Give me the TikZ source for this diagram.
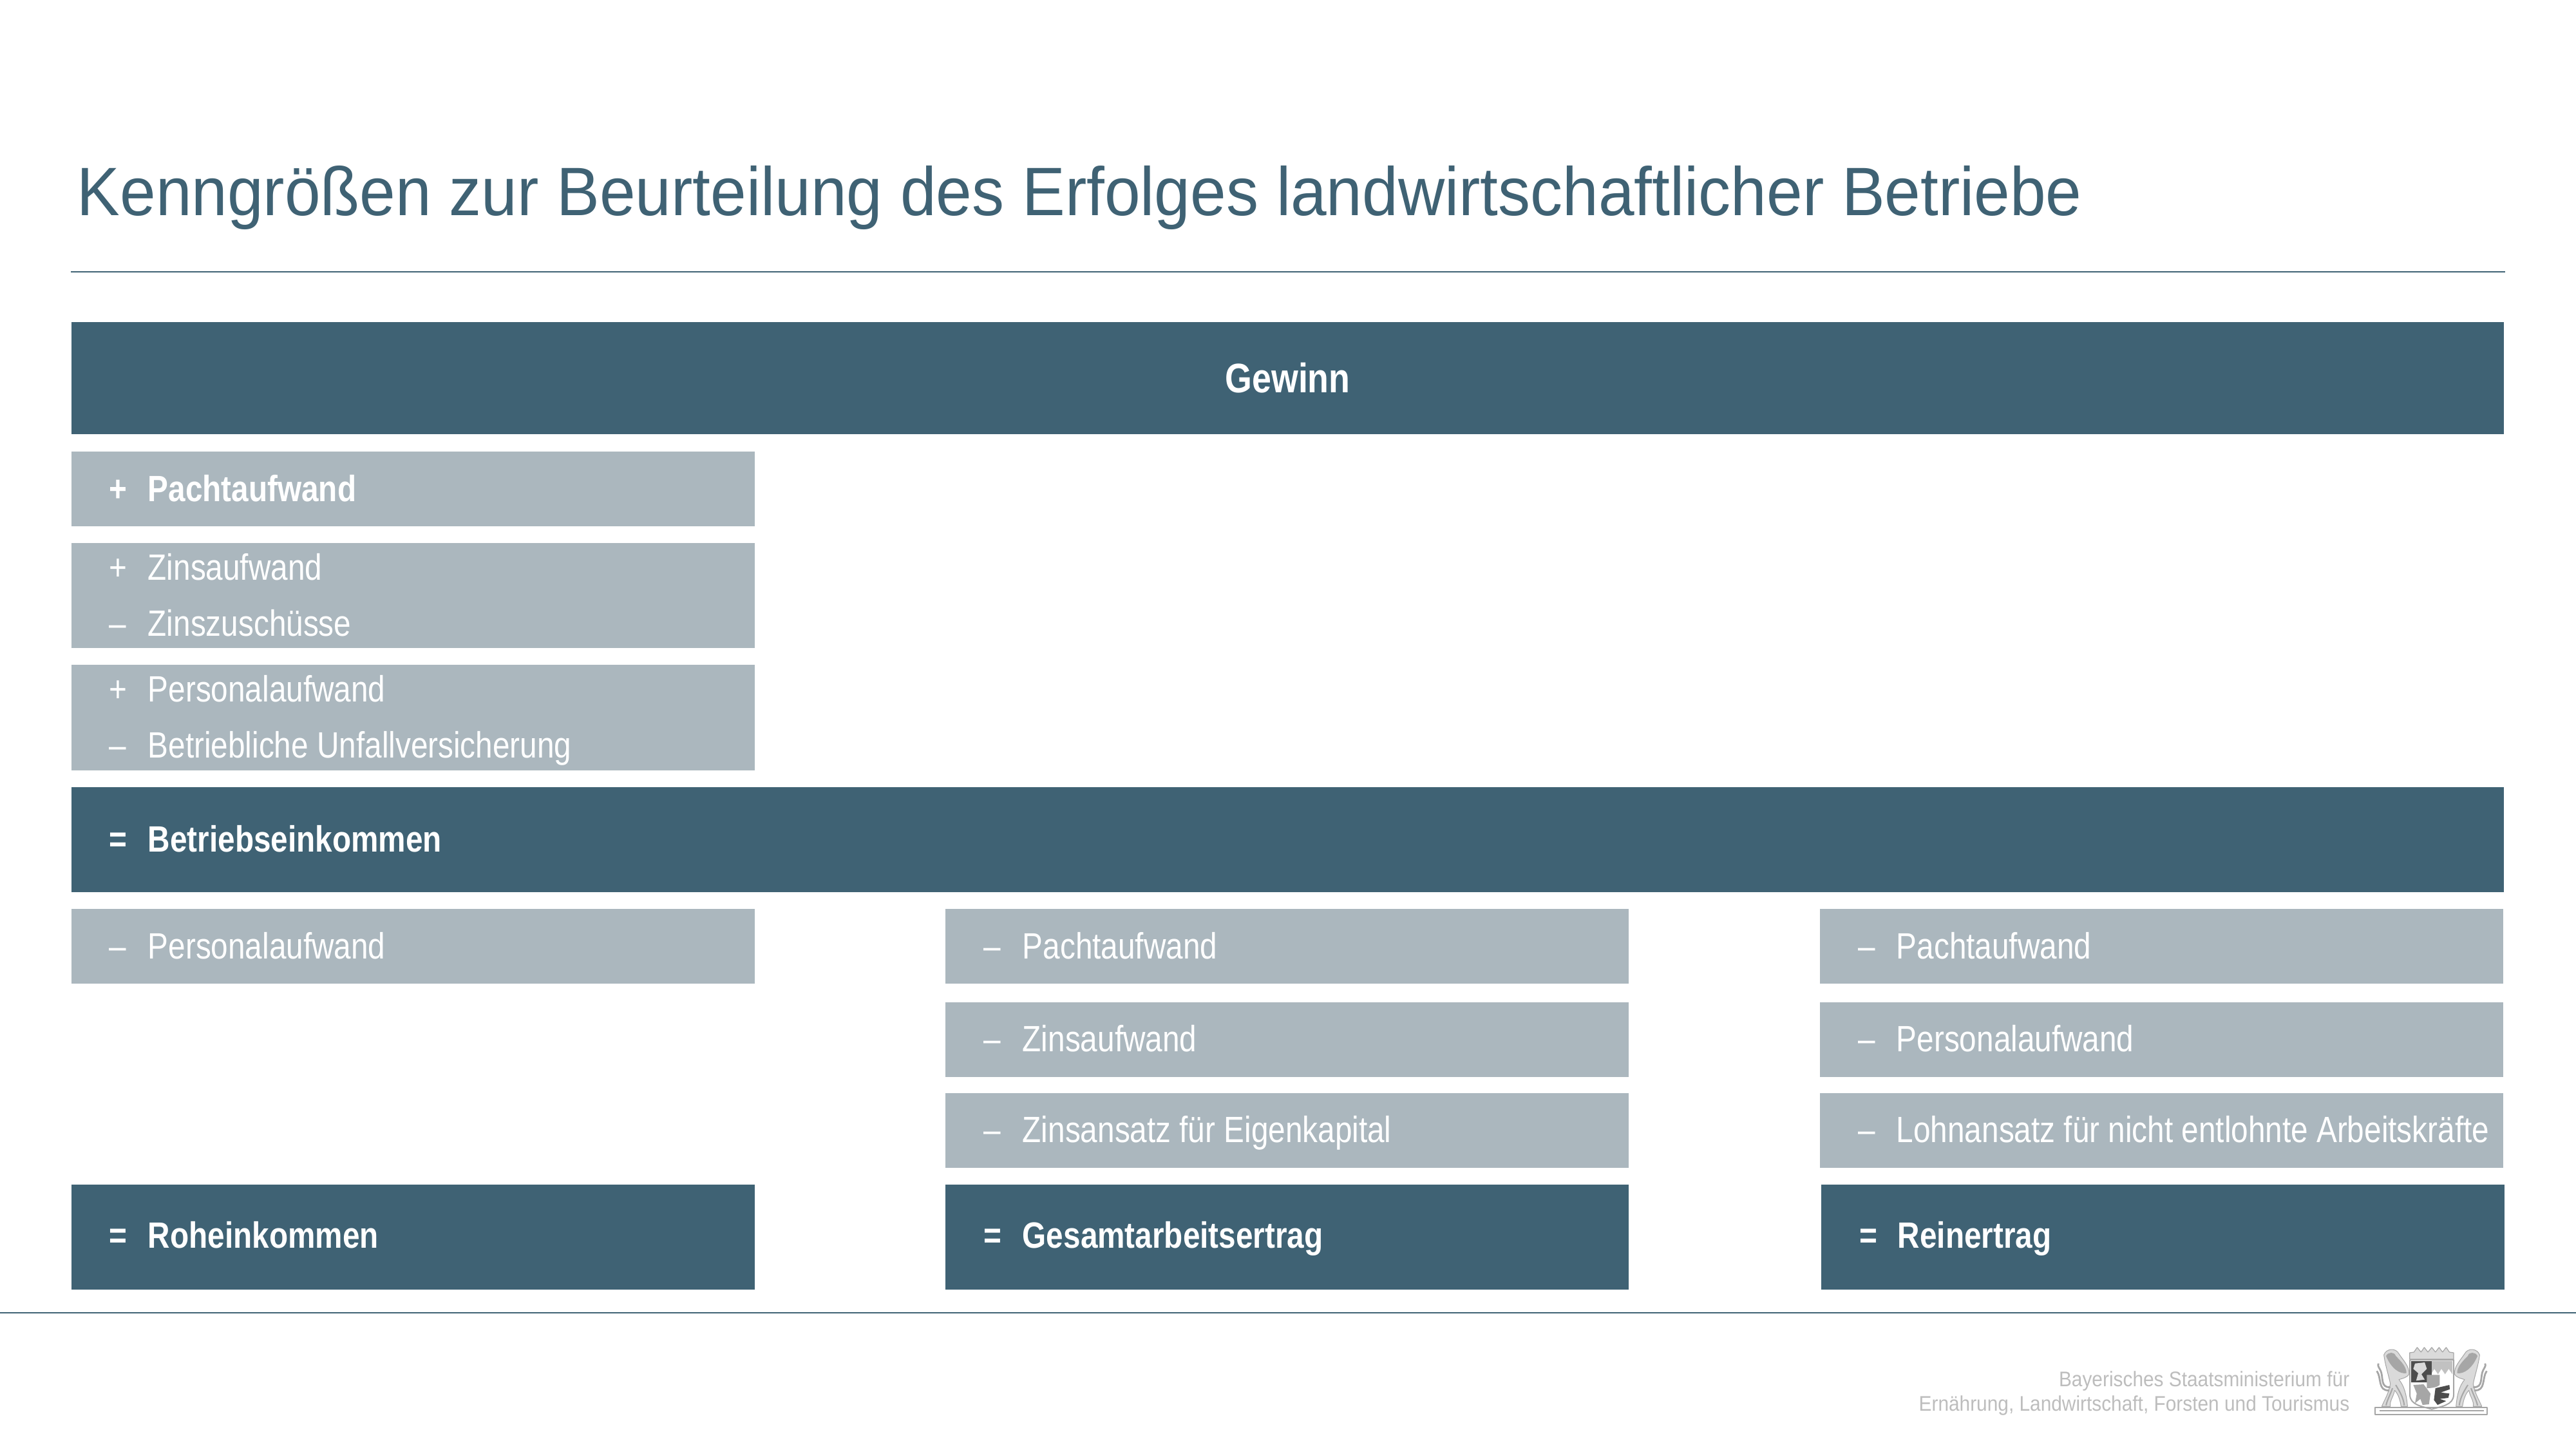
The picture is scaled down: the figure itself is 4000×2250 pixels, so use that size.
\documentclass[tikz,border=0pt]{standalone}
\usepackage{fontspec}
\setmainfont[FakeStretch=0.94]{Liberation Sans}
\newfontfamily\condfont[FakeStretch=0.84]{Liberation Sans}
\newfontfamily\footfont[FakeStretch=0.91]{Liberation Sans}
\definecolor{darkbar}{HTML}{3F6274}
\definecolor{palebar}{HTML}{ABB7BE}
\definecolor{footgrey}{HTML}{BDBDBD}
\definecolor{crestpale}{HTML}{DADADA}
\definecolor{crestmid}{HTML}{A6A6A6}
\definecolor{crestdark}{HTML}{4D4D4D}
\tikzset{
  bar/.style={fill=#1, inner sep=0pt, outer sep=0pt, anchor=north west},
  entry/.style={anchor=base west, inner sep=0pt, text=white, font=\condfont\fontsize{14.2}{16}\selectfont},
  bentry/.style={entry, font=\condfont\bfseries\fontsize{14.2}{16}\selectfont},
  footline/.style={anchor=base east, inner sep=0pt, text=footgrey, font=\footfont\fontsize{8.2}{10}\selectfont},
}
% one supporter of the crest
\newcommand{\crestlion}{%
\fill[crestpale, draw=crestmid, line width=0.25pt] (95,85) .. controls (105,55) and (150,50) .. (165,80)
  .. controls (185,110) and (215,140) .. (212,175) .. controls (205,190) and (180,195) .. (165,200)
  .. controls (190,230) and (200,270) .. (205,325) -- (175,325) .. controls (170,290) and (160,265) .. (145,250)
  .. controls (140,280) and (120,300) .. (125,325) -- (85,325) .. controls (100,290) and (115,270) .. (125,220)
  .. controls (120,190) and (100,130) .. (95,85) -- cycle;
\fill[crestmid] (105,90) .. controls (115,70) and (145,70) .. (150,90) .. controls (175,115) and (200,140) .. (200,170)
  .. controls (170,175) and (130,150) .. (105,90) -- cycle;
\draw[crestmid, line width=0.7pt] (125,235) .. controls (75,240) and (95,185) .. (78,155) .. controls (70,140) and (65,135) .. (70,125);
\draw[crestmid, line width=0.7pt] (120,250) .. controls (65,255) and (85,190) .. (62,160);
\draw[crestmid, line width=0.5pt] (150,225) .. controls (165,250) and (185,280) .. (190,320);
\draw[crestmid, line width=0.5pt] (135,240) .. controls (125,270) and (110,295) .. (105,320);
}
\begin{document}
\begin{tikzpicture}[x=0.25pt, y=-0.25pt, line join=bevel]
\useasboundingbox (0,0) rectangle (4000,2250);

\node[anchor=base west, inner sep=0pt, text=darkbar, font=\fontsize{26.6}{30}\selectfont] (title) at (119,334)
  {Kenngrößen zur Beurteilung des Erfolges landwirtschaftlicher Betriebe};
\coordinate (rulea) at (110,422);
\coordinate (ruleb) at (3890,422);
\draw[darkbar, line width=0.5pt] (rulea) -- (ruleb);
\coordinate (rulec) at (0,2038);
\coordinate (ruled) at (4000,2038);
\draw[darkbar, line width=0.5pt] (rulec) -- (ruled);

% bars
\node[bar=darkbar, minimum width=944.25pt, minimum height=43.5pt] (gewinn) at (111,500) {};
\node[bar=palebar, minimum width=265.25pt, minimum height=29pt] (pacht) at (111,701) {};
\node[bar=palebar, minimum width=265.25pt, minimum height=40.75pt] (zins) at (111,843) {};
\node[bar=palebar, minimum width=265.25pt, minimum height=41pt] (pers) at (111,1032) {};
\node[bar=darkbar, minimum width=944.25pt, minimum height=40.75pt] (betrieb) at (111,1222) {};
\node[bar=palebar, minimum width=265.25pt, minimum height=29pt] (aa) at (111,1411) {};
\node[bar=palebar, minimum width=265.25pt, minimum height=29pt] (ba) at (1468,1411) {};
\node[bar=palebar, minimum width=265.25pt, minimum height=29pt] (ca) at (2826,1411) {};
\node[bar=palebar, minimum width=265.25pt, minimum height=29pt] (bb) at (1468,1556) {};
\node[bar=palebar, minimum width=265.25pt, minimum height=29pt] (cb) at (2826,1556) {};
\node[bar=palebar, minimum width=265.25pt, minimum height=29pt] (bc) at (1468,1697) {};
\node[bar=palebar, minimum width=265.25pt, minimum height=29pt] (cc) at (2826,1697) {};
\node[bar=darkbar, minimum width=265.25pt, minimum height=40.75pt] (roh) at (111,1839) {};
\node[bar=darkbar, minimum width=265.25pt, minimum height=40.75pt] (gesamt) at (1468,1839) {};
\node[bar=darkbar, minimum width=265.25pt, minimum height=40.75pt] (rein) at (2828,1839) {};

% labels
\node[bentry, anchor=center, font=\condfont\bfseries\fontsize{16}{18}\selectfont] (gewinntxt) at (gewinn.center) {Gewinn};
\node[bentry] (s1) at (169,778) {+};
\node[bentry] (t1) at (229,778) {Pachtaufwand};
\node[entry] (s2) at (169,900) {+};
\node[entry] (t2) at (229,900) {Zinsaufwand};
\node[entry] (s3) at (169,987) {–};
\node[entry] (t3) at (229,987) {Zinszuschüsse};
\node[entry] (s4) at (169,1089) {+};
\node[entry] (t4) at (229,1089) {Personalaufwand};
\node[entry] (s5) at (169,1176) {–};
\node[entry] (t5) at (229,1176) {Betriebliche Unfallversicherung};
\node[bentry] (s6) at (169,1322) {=};
\node[bentry] (t6) at (229,1322) {Betriebseinkommen};
\node[entry] (s7) at (169,1488) {–};
\node[entry] (t7) at (229,1488) {Personalaufwand};
\node[bentry] (s8) at (169,1937) {=};
\node[bentry] (t8) at (229,1937) {Roheinkommen};
\node[entry] (s9) at (1527,1488) {–};
\node[entry] (t9) at (1587,1488) {Pachtaufwand};
\node[entry] (s10) at (1527,1632) {–};
\node[entry] (t10) at (1587,1632) {Zinsaufwand};
\node[entry] (s11) at (1527,1773) {–};
\node[entry] (t11) at (1587,1773) {Zinsansatz für Eigenkapital};
\node[bentry] (s12) at (1527,1937) {=};
\node[bentry] (t12) at (1587,1937) {Gesamtarbeitsertrag};
\node[entry] (s13) at (2885,1488) {–};
\node[entry] (t13) at (2944,1488) {Pachtaufwand};
\node[entry] (s14) at (2885,1632) {–};
\node[entry] (t14) at (2944,1632) {Personalaufwand};
\node[entry] (s15) at (2885,1773) {–};
\node[entry] (t15) at (2944,1773) {Lohnansatz für nicht entlohnte Arbeitskräfte};
\node[bentry] (s16) at (2887,1937) {=};
\node[bentry] (t16) at (2946,1937) {Reinertrag};

% footer
\node[footline] (foota) at (3649,2152) {Bayerisches Staatsministerium für};
\node[footline] (footb) at (3649,2190) {Ernährung, Landwirtschaft, Forsten und Tourismus};

% crest
\begin{scope}[shift={(3670,2075)}, x=0.08333pt, y=-0.08333pt]
\crestlion
\begin{scope}[xscale=-1, xshift=-636*0.08333pt]
\crestlion
\end{scope}
% crown
\fill[crestpale, draw=crestmid, line width=0.3pt] (215,105) -- (215,75) -- (235,72) -- (250,50) -- (268,72) -- (283,50) -- (300,72) -- (318,50) -- (335,72) -- (352,50) -- (368,72) -- (385,50) -- (400,72) -- (420,75) -- (420,105) -- cycle;
% shield
\fill[white, draw=crestmid, line width=0.5pt] (216,108) -- (420,108) -- (420,270) .. controls (420,320) and (360,325) .. (318,338) .. controls (276,325) and (216,320) .. (216,270) -- cycle;
\fill[crestdark] (222,113) rectangle (317,212);
\fill[crestpale] (240,125) -- (285,120) -- (295,150) -- (270,175) -- (285,200) -- (245,205) -- (255,170) -- (232,150) -- cycle;
\fill[crestmid!70] (318,113) -- (414,113) -- (414,175) -- (397,150) -- (380,175) -- (363,150) -- (347,175) -- (330,150) -- (318,170) -- cycle;
\fill[crestmid] (295,178) -- (355,178) -- (355,225) .. controls (345,235) and (320,240) .. (295,240) -- cycle;
\fill[crestmid] (232,225) -- (280,222) -- (312,265) -- (305,315) -- (275,318) -- (265,290) -- (240,310) -- (248,265) -- cycle;
\fill[crestdark] (335,240) -- (400,225) -- (402,245) -- (360,260) -- (400,265) -- (395,285) -- (355,290) -- (385,300) -- (345,318) -- (328,295) -- cycle;
% plinth
\draw[crestmid, line width=0.5pt] (55,331) rectangle (577,362);
\draw[crestmid, line width=0.5pt] (75,346) -- (560,346);
\end{scope}
\end{tikzpicture}
\end{document}
